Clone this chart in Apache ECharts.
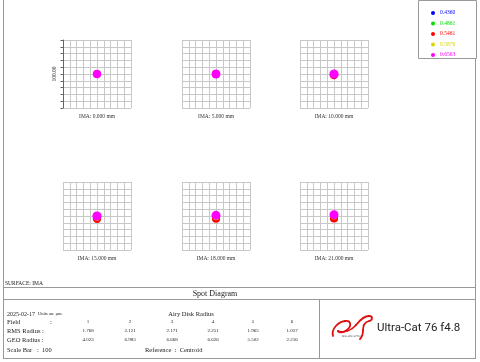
<!DOCTYPE html>
<html><head><meta charset="utf-8">
<script src="https://cdn.jsdelivr.net/npm/echarts@6/dist/echarts.min.js"></script>
<style>html,body{margin:0;padding:0;background:#fff}#c{width:480px;height:362px}</style>
</head><body><div id="c"></div>
<script>
// ---- data ----
const wavelengths = ['0.4360', '0.4861', '0.5461', '0.5876', '0.6563'];
const waveColors = ['#0000ff', '#00e000', '#ff0000', '#d8d800', '#ff00ff'];
const fieldLabels = ['IMA: 0.000 mm', 'IMA: 5.000 mm', 'IMA: 10.000 mm', 'IMA: 15.000 mm', 'IMA: 18.000 mm', 'IMA: 21.000 mm'];
// spot centroid (µm) per wavelength (rows) per field (cols)
const spotX = [
  [0, 0, 0, 0, 0, 0],
  [0, 0, 0, 0, 0, 0],
  [0, 0, 0, 0, 0, 0],
  [0, 0, 0, 0, 0, 0],
  [0, 0, 0, 0, 0, 0]
];
const spotY = [
  [0, 0, -0.5, -1.5, -1.5, -1.0],
  [0, 0, -0.3, -1.0, -1.0, -0.5],
  [0, 0, -1.5, -4.0, -4.0, -3.5],
  [0, 0, -0.5, -1.5, -1.0, 0.0],
  [0, 0, 0.0, 0.0, 1.0, 2.0]
];
// spot radius (µm)
const spotR = [
  [4.0, 4.2, 4.5, 4.5, 4.2, 4.0],
  [4.5, 4.8, 5.0, 5.0, 4.8, 4.5],
  [5.8, 6.0, 6.3, 6.2, 6.0, 6.0],
  [5.0, 5.2, 5.5, 5.5, 5.2, 5.0],
  [6.3, 6.5, 6.8, 6.8, 6.6, 6.6]
];
const scaleBarLabel = '100.00';
const fieldNums = ['1', '2', '3', '4', '5', '6'];
const rmsRadius = ['1.768', '2.121', '2.171', '2.251', '1.965', '1.057'];
const geoRadius = ['4.023', '6.983', '6.668', '6.626', '5.502', '2.216'];

// ---- layout ----
const gridLefts = [63, 182, 300];
const gridTops = [40, 182];
const serif = 'Liberation Serif';

const grids = [], xAxes = [], yAxes = [], series = [];
for (let f = 0; f < 6; f++) {
  const row = Math.floor(f / 3), col = f % 3;
  grids.push({ left: gridLefts[col], top: gridTops[row], width: 68, height: 68, containLabel: false });
  xAxes.push({
    gridIndex: f, type: 'value', min: -50, max: 50, interval: 10,
    name: fieldLabels[f], nameLocation: 'middle', nameGap: 6,
    nameTextStyle: { fontFamily: serif, fontSize: 5.5, color: '#333' },
    axisLine: { show: false }, axisTick: { show: false }, axisLabel: { show: false },
    splitLine: { show: true, lineStyle: { color: '#c8c8c8', width: 1 } }
  });
  yAxes.push({
    gridIndex: f, type: 'value', min: -50, max: 50, interval: 10, position: 'left',
    name: f === 0 ? scaleBarLabel : '', nameLocation: 'middle', nameGap: 5,
    nameTextStyle: { fontFamily: serif, fontSize: 5.5, color: '#333' },
    axisLine: { show: f === 0, onZero: false, lineStyle: { color: '#666', width: 1 } },
    axisTick: { show: f === 0, length: 2.5, lineStyle: { color: '#666' } },
    axisLabel: { show: false },
    splitLine: { show: true, lineStyle: { color: '#c8c8c8', width: 1 } }
  });
  for (let w = 0; w < wavelengths.length; w++) {
    series.push({
      type: 'custom', name: wavelengths[w], xAxisIndex: f, yAxisIndex: f,
      color: waveColors[w],
      data: [[spotX[w][f], spotY[w][f], spotR[w][f]]],
      renderItem: function (params, api) {
        const c = api.coord([api.value(0), api.value(1)]);
        const s = api.size([api.value(2), api.value(2)]);
        return { type: 'circle', shape: { cx: c[0], cy: c[1], r: s[0] }, style: { fill: api.visual('color') } };
      },
      silent: true, animation: false
    });
  }
}

const legendData = wavelengths.map((w, i) => ({ name: w, textStyle: { color: waveColors[i] } }));

const lineStyle = { stroke: '#999', lineWidth: 1 };
function hline(x1, x2, y) { return { type: 'line', shape: { x1, y1: y + 0.5, x2, y2: y + 0.5 }, style: lineStyle, silent: true }; }
function vline(x, y1, y2) { return { type: 'line', shape: { x1: x + 0.5, y1, x2: x + 0.5, y2 }, style: lineStyle, silent: true }; }
function txt(x, y, t, size, align, extra) {
  return { type: 'text', x, y, silent: true,
    style: Object.assign({ text: t, fontFamily: serif, fontSize: size, fill: '#222', align: align || 'left', verticalAlign: 'middle' }, extra || {}) };
}

// logo swoosh as cubic segments [x1,y1,cp1x,cp1y,cp2x,cp2y,x2,y2]
const swoosh = [
  [333,336, 331,329, 338,322, 345,321],
  [345,321, 351,320, 352,326, 347,330],
  [347,330, 343,333, 339,333, 338,331],
  [338,331, 344,333, 351,331, 356,325],
  [356,325, 360,320, 364,316, 369,316],
  [369,316, 373,316, 373,320, 369,321],
  [369,321, 365,322, 363,326, 363,330],
  [363,330, 363,334, 362,337, 360,339]
];

const colX = [88, 130, 172, 213, 253, 292];
const graphics = [
  { type: 'rect', shape: { x: 418.5, y: 0.5, width: 58, height: 58 }, style: { fill: 'none', stroke: '#999', lineWidth: 1 }, silent: true },
  vline(3, 0, 358), vline(475, 58, 358), hline(3, 476, 287), hline(3, 476, 299), hline(3, 476, 358), vline(319, 299, 358),
  txt(5, 284, 'SURFACE: IMA', 5.5),
  txt(215, 293.5, 'Spot Diagram', 8, 'center'),
  txt(7, 314, '2025-02-17', 6),
  txt(38, 314, 'Units are µm.', 4.5),
  txt(191, 314, 'Airy Disk Radius', 6.5, 'center'),
  txt(7, 322, 'Field', 6.5), txt(50, 322, ':', 6.5),
  txt(7, 331, 'RMS Radius :', 6.5),
  txt(7, 340, 'GEO Radius :', 6.5),
  txt(7, 350, 'Scale Bar', 6.5), txt(37, 350, ':  100', 6.5),
  txt(145, 350, 'Reference  :  Centroid', 6.5),
  { type: 'text', x: 352, y: 336.5, silent: true, style: { text: 'WILLIAM OPTICS', fontFamily: 'DejaVu Sans', fontSize: 2.5, fill: '#444', align: 'center', verticalAlign: 'middle' } },
  { type: 'text', x: 377, y: 328, silent: true, style: { text: 'Ultra-Cat 76 f4.8', fontFamily: 'Roboto', fontSize: 11.5, fill: '#222', align: 'left', verticalAlign: 'middle' } }
];
swoosh.forEach(s => graphics.push({
  type: 'bezierCurve', silent: true,
  shape: { x1: s[0], y1: s[1], cpx1: s[2], cpy1: s[3], cpx2: s[4], cpy2: s[5], x2: s[6], y2: s[7] },
  style: { stroke: '#e01010', lineWidth: 1.8, fill: null, lineCap: 'round' }
}));
for (let i = 0; i < 6; i++) {
  graphics.push(txt(colX[i], 322, fieldNums[i], 5, 'center'));
  graphics.push(txt(colX[i], 331, rmsRadius[i], 5, 'center'));
  graphics.push(txt(colX[i], 340, geoRadius[i], 5, 'center'));
}

const chart = echarts.init(document.getElementById('c'), null, { renderer: 'canvas' });
chart.setOption({
  animation: false,
  backgroundColor: '#fff',
  grid: grids, xAxis: xAxes, yAxis: yAxes, series: series,
  legend: {
    data: legendData, orient: 'vertical', left: 426, top: 5,
    icon: 'circle', itemWidth: 4, itemHeight: 4, itemGap: 4.5,
    selectedMode: false,
    textStyle: { fontFamily: serif, fontSize: 5.5, lineHeight: 6 }
  },
  graphic: graphics
});
</script></body></html>
